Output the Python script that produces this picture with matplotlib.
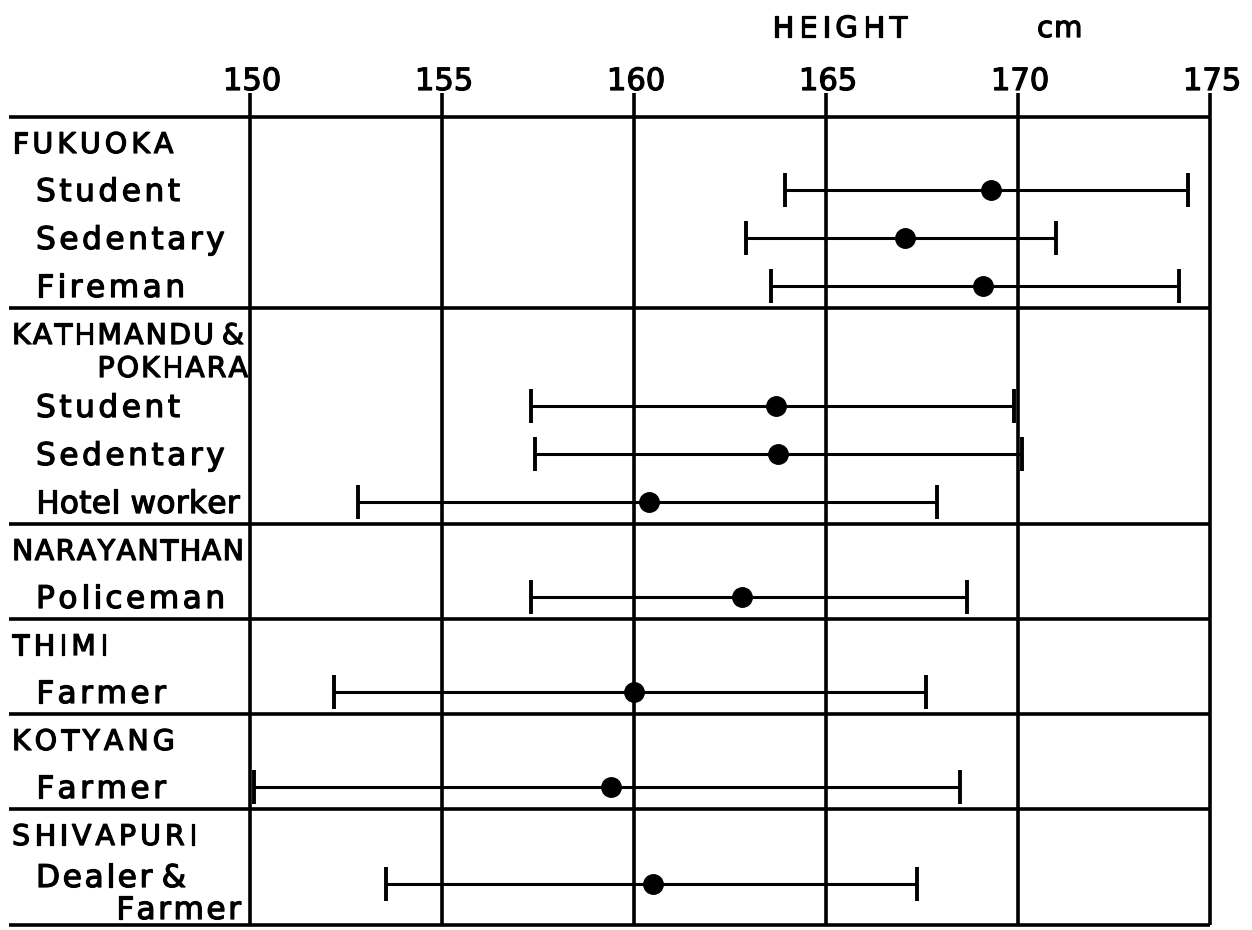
import matplotlib
matplotlib.use("Agg")
import matplotlib.pyplot as plt
import matplotlib.patheffects as pe
from matplotlib.font_manager import FontProperties, findfont
from matplotlib.ft2font import FT2Font

# data (height in cm)
groups = ["FUKUOKA", "KATHMANDU &\nPOKHARA", "NARAYANTHAN", "THIMI", "KOTYANG", "SHIVAPURI"]
occupations = ["Student", "Sedentary", "Fireman",
               "Student", "Sedentary", "Hotel worker",
               "Policeman", "Farmer", "Farmer", "Dealer &\nFarmer"]
group_of = [0, 0, 0, 1, 1, 1, 2, 3, 4, 5]
mean = [169.3, 167.07, 169.08, 163.69, 163.76, 160.4, 162.8, 160.0, 159.4, 160.5]
low = [163.93, 162.92, 163.56, 157.33, 157.42, 152.81, 157.33, 152.2, 150.1, 153.53]
high = [174.43, 171.0, 174.19, 169.9, 170.1, 167.9, 168.67, 167.6, 168.5, 167.36]
ticks = [150, 155, 160, 165, 170, 175]

W, H = 1252, 930
PX_PER_CM = 38.4
X0_PX = 250  # pixel of 150 cm
FONT = "DejaVu Sans"
LW = 2.6
BOLDEN = [pe.withStroke(linewidth=0.9, foreground="black")]


def px2x(px):
    return 150 + (px - X0_PX) / PX_PER_CM


fig = plt.figure(figsize=(W / 100, H / 100), dpi=100)
ax = fig.add_axes([0, 0, 1, 1])
ax.set_xlim(px2x(0), px2x(W))
ax.set_ylim(H, 0)
ax.axis("off")

_ft = FT2Font(findfont(FontProperties(family=FONT)))


def advances(s, size):
    _ft.set_size(size, 100)
    out = []
    for i, c in enumerate(s):
        a = _ft.load_char(ord(c)).linearHoriAdvance / 65536
        # the "&" sits close to the word before it
        if c == " " and s[i + 1:i + 2] == "&":
            a *= 0.4
        out.append(a)
    return out


def spaced(x_px, y, s, size, track=3.0, ha="left", max_w=None):
    """letter-spaced text, x in pixels, y is the baseline in data units"""
    adv = advances(s, size)
    gaps = max(len(s) - 1, 1)
    if max_w is not None:
        track = max(0.3, min(track, (max_w - sum(adv)) / gaps))
    total = sum(adv) + track * gaps
    x = x_px - total if ha == "right" else x_px
    for c, a in zip(s, adv):
        if c != " ":
            ax.text(px2x(x), y, c, ha="left", va="baseline", fontsize=size,
                    family=FONT, path_effects=BOLDEN)
        x += a + track


# vertical layout: headers, rows and separators
seps = [117]
row_y = []
y = seps[0]
for g, name in enumerate(groups):
    lines = name.split("\n")
    base = y + 36
    spaced(12, base, lines[0], 20.5, track=4.0, max_w=232)
    if len(lines) > 1:
        base += 33
        spaced(248, base, lines[1], 20.5, track=2.0, ha="right")
    items = [i for i, k in enumerate(group_of) if k == g]
    ry = base
    for j, i in enumerate(items):
        parts = occupations[i].split("\n")
        if j == 0:
            ry = base + (29 if len(lines) > 1 else 37)
        else:
            ry += 48
        if len(parts) > 1:
            ry += 2
            spaced(36, ry + 3, parts[0], 22.5, track=3.5, max_w=150)
            spaced(241, ry + 35, parts[1], 22.5, track=2.5, ha="right")
        else:
            spaced(36, ry + 11, parts[0], 22.5, track=3.5, max_w=198)
        row_y.append(ry)
    y = ry + (41 if len(occupations[items[-1]].split("\n")) > 1 else 22)
    seps.append(y)

# grid
ax.vlines(ticks, 93, seps[-1], color="black", lw=LW)
ax.hlines(seps, px2x(9), 175, color="black", lw=LW)
for t in ticks:
    ax.text(t + 2 / PX_PER_CM, 90, str(t), ha="center", va="baseline", fontsize=22,
            family=FONT, path_effects=BOLDEN)

spaced(772, 37, "HEIGHT", 21, track=4.8)
spaced(1037, 37, "cm", 21, track=1.0)

# means with ranges
xerr = [[m - lo for m, lo in zip(mean, low)], [hi - m for m, hi in zip(mean, high)]]
ax.errorbar(mean, row_y, xerr=xerr, fmt="o", color="black", ms=14, lw=2.2,
            capsize=12, capthick=2.8, zorder=3)

fig.savefig("out.png", dpi=100, facecolor="white")
